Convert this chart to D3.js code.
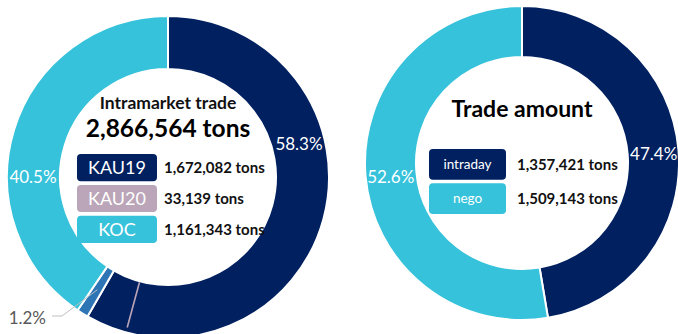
<!DOCTYPE html>
<html>
<head>
<meta charset="utf-8">
<script src="https://cdn.jsdelivr.net/npm/d3@7"></script>
<style>
  body { margin: 0; background: #fff; }
  svg { display: block; font-family: Lato, "Open Sans", sans-serif; }
</style>
</head>
<body>
<div id="chart"></div>
<script>
// left donut: intramarket trade by product
const marketNames = ["KAU19", "KAU20", "KOC"];
const marketTons = [1672082, 33139, 1161343];
const marketTitle = "Intramarket trade";
// thin mauve divider seen inside the KAU19 slice (position in tons from 12 o'clock)
const dividerTons = [1554000];

// right donut: trade amount by type
const tradeNames = ["intraday", "nego"];
const tradeTons = [1357421, 1509143];
const tradeTitle = "Trade amount";

const W = 678, H = 334;
const fmt = d3.format(",");
const pct = d => d3.format(".1f")(d * 100) + "%";

const svg = d3.select("#chart").append("svg")
    .attr("width", W)
    .attr("height", H);

// colors
const ringColor = d3.scaleOrdinal()
  .domain(marketNames)
  .range(["#002060", "#2E75B6", "#35C2DA"]);
const boxColor = d3.scaleOrdinal()
  .domain(marketNames)
  .range(["#002060", "#BBA5B8", "#35C2DA"]);
const tradeColor = d3.scaleOrdinal()
  .domain(tradeNames)
  .range(["#002060", "#35C2DA"]);

const pie = d3.pie().sort(null).value(d => d.v);

function donut(g, names, values, color, rIn, rOut) {
  const rows = names.map((n, i) => ({ n, v: values[i] }));
  const arcs = pie(rows);
  const arc = d3.arc().innerRadius(rIn).outerRadius(rOut);
  g.selectAll("path.slice")
    .data(arcs)
    .enter().append("path")
      .attr("class", "slice")
      .attr("d", arc)
      .attr("fill", d => color(d.data.n))
      .attr("stroke", "#fff")
      .attr("stroke-width", 2);
  return arcs;
}

// point at an angle (degrees clockwise from top) and radius
function polar(a, r) {
  const t = a * Math.PI / 180;
  return [r * Math.sin(t), -r * Math.cos(t)];
}

// ---------- left donut ----------
const L = svg.append("g").attr("transform", "translate(168,177)");
const total = d3.sum(marketTons);
const lArcs = donut(L, marketNames, marketTons, ringColor, 108, 161);

// divider line
const toAngle = d3.scaleLinear().domain([0, total]).range([0, 360]);
dividerTons.forEach(t => {
  const a = toAngle(t);
  const p1 = polar(a, 109), p2 = polar(a, 156);
  L.append("line")
    .attr("x1", p1[0]).attr("y1", p1[1])
    .attr("x2", p2[0]).attr("y2", p2[1])
    .attr("stroke", "#BBA5B8")
    .attr("stroke-width", 1.6);
});

// percentage labels
const lLabelAngle = [76, null, 270];
lArcs.forEach((d, i) => {
  if (lLabelAngle[i] == null) return;
  const p = polar(lLabelAngle[i], 135);
  L.append("text")
    .attr("x", p[0]).attr("y", p[1])
    .attr("dy", "0.35em")
    .attr("text-anchor", "middle")
    .attr("fill", "#fff")
    .attr("font-size", 17)
    .text(pct(d.data.v / total));
});

// small slice label with leader line
{
  const d = lArcs[1];
  const mid = (d.startAngle + d.endAngle) / 2 * 180 / Math.PI;
  const p = polar(mid, 133);
  L.append("polyline")
    .attr("points", `${p[0]},${p[1]} ${-106},${139} ${-116},${139}`)
    .attr("fill", "none")
    .attr("stroke", "#BFBFBF")
    .attr("stroke-width", 1);
  L.append("text")
    .attr("x", -122).attr("y", 141)
    .attr("dy", "0.35em")
    .attr("text-anchor", "end")
    .attr("fill", "#595959")
    .attr("font-size", 17)
    .text(pct(d.data.v / total));
}

// center texts
L.append("text")
  .attr("x", 0).attr("y", -68)
  .attr("text-anchor", "middle")
  .attr("font-weight", "bold")
  .attr("font-size", 17.5)
  .attr("fill", "#111")
  .text(marketTitle);
L.append("text")
  .attr("x", 0).attr("y", -40)
  .attr("text-anchor", "middle")
  .attr("font-weight", "bold")
  .attr("font-size", 24.5)
  .attr("fill", "#000")
  .text(fmt(total) + " tons");

const lBoxY = d3.scaleBand().domain(marketNames).range([-23, 66]).paddingInner(0.12);
const lLeg = L.selectAll("g.leg")
  .data(marketNames)
  .enter().append("g")
    .attr("class", "leg")
    .attr("transform", d => `translate(-91,${lBoxY(d)})`);
lLeg.append("rect")
  .attr("width", 80)
  .attr("height", lBoxY.bandwidth())
  .attr("rx", 4)
  .attr("fill", d => boxColor(d));
lLeg.append("text")
  .attr("x", 40)
  .attr("y", lBoxY.bandwidth() / 2)
  .attr("dy", "0.36em")
  .attr("text-anchor", "middle")
  .attr("fill", "#fff")
  .attr("font-size", 18)
  .text(d => d);
lLeg.append("text")
  .attr("x", 87)
  .attr("y", lBoxY.bandwidth() / 2)
  .attr("dy", "0.36em")
  .attr("font-weight", "bold")
  .attr("font-size", 15)
  .attr("fill", "#111")
  .text((d, i) => fmt(marketTons[i]) + " tons");

// ---------- right donut ----------
const R = svg.append("g").attr("transform", "translate(522,163)");
const tTotal = d3.sum(tradeTons);
const rArcs = donut(R, tradeNames, tradeTons, tradeColor, 106, 157);

const rLabelAngle = [86, 264];
rArcs.forEach((d, i) => {
  const p = polar(rLabelAngle[i], 132);
  R.append("text")
    .attr("x", p[0]).attr("y", p[1])
    .attr("dy", "0.35em")
    .attr("text-anchor", "middle")
    .attr("fill", "#fff")
    .attr("font-size", 17)
    .text(pct(d.data.v / tTotal));
});

R.append("text")
  .attr("x", 0).attr("y", -46)
  .attr("text-anchor", "middle")
  .attr("font-weight", "bold")
  .attr("font-size", 23)
  .attr("fill", "#000")
  .text(tradeTitle);

const rBoxY = d3.scaleBand().domain(tradeNames).range([-14, 51]).paddingInner(0.1);
const rLeg = R.selectAll("g.leg")
  .data(tradeNames)
  .enter().append("g")
    .attr("class", "leg")
    .attr("transform", d => `translate(-93,${rBoxY(d)})`);
rLeg.append("rect")
  .attr("width", 77)
  .attr("height", rBoxY.bandwidth())
  .attr("rx", 4)
  .attr("fill", d => tradeColor(d));
rLeg.append("text")
  .attr("x", 38.5)
  .attr("y", rBoxY.bandwidth() / 2)
  .attr("dy", "0.36em")
  .attr("text-anchor", "middle")
  .attr("fill", "#fff")
  .attr("font-size", 13.5)
  .text(d => d);
rLeg.append("text")
  .attr("x", 88)
  .attr("y", rBoxY.bandwidth() / 2)
  .attr("dy", "0.36em")
  .attr("font-weight", "bold")
  .attr("font-size", 15)
  .attr("fill", "#111")
  .text((d, i) => fmt(tradeTons[i]) + " tons");
</script>
</body>
</html>
